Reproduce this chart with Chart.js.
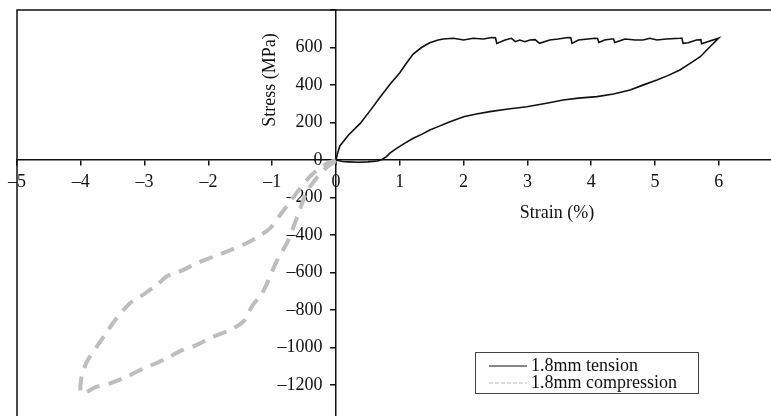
<!DOCTYPE html>
<html>
<head>
<meta charset="utf-8">
<script src="https://cdn.jsdelivr.net/npm/chart.js@4"></script>
<style>
  html, body { margin: 0; padding: 0; background: #fff; overflow: hidden; }
  #wrap { width: 771px; height: 416px; overflow: hidden; }
</style>
</head>
<body>
<div id="wrap"><canvas id="StressChart" width="790" height="430"></canvas></div>
<script>
// tension loop: loading, serrated plateau, unloading (strain %, stress MPa)
var tensionStrain = [0, 0.02, 0.06, 0.2, 0.38, 0.55, 0.69, 0.85, 1.0, 1.1, 1.21, 1.34, 1.47, 1.53, 1.6, 1.68, 1.84, 2.0, 2.15, 2.31, 2.44, 2.5, 2.52, 2.65, 2.75, 2.81, 2.88, 2.96, 3.04, 3.12, 3.19, 3.35, 3.48, 3.64, 3.68, 3.7, 3.8, 3.95, 4.06, 4.1, 4.12, 4.21, 4.32, 4.35, 4.37, 4.53, 4.69, 4.81, 4.92, 5.03, 5.18, 5.39, 5.42, 5.44, 5.52, 5.65, 5.72, 5.73, 5.86, 6.0,
  5.85, 5.71, 5.55, 5.39, 5.2, 5.03, 4.8, 4.61, 4.35, 4.09, 3.8, 3.56, 3.3, 2.99, 2.7, 2.41, 2.2, 2.0, 1.85, 1.73, 1.6, 1.47, 1.35, 1.21, 1.08, 0.95, 0.85, 0.79, 0.72, 0.65, 0.5, 0.35, 0.2, 0.1, 0];
var tensionStress = [0, 30, 75, 135, 195, 270, 335, 405, 465, 515, 565, 600, 625, 632, 640, 645, 649, 640, 649, 645, 653, 652, 622, 640, 649, 631, 640, 631, 640, 642, 622, 640, 645, 653, 652, 622, 640, 645, 649, 648, 627, 640, 645, 645, 627, 645, 640, 640, 649, 640, 645, 649, 650, 622, 625, 640, 642, 620, 635, 650,
  600, 551, 515, 480, 450, 427, 398, 373, 352, 338, 330, 320, 303, 284, 272, 258, 245, 231, 212, 196, 178, 160, 138, 116, 90, 62, 38, 18, 3, -5, -10, -12, -10, -8, 0];

// compression loop
var compStrain = [0, -0.15, -0.28, -0.41, -0.56, -0.72, -0.88, -1.03, -1.2, -1.4, -1.65, -1.93, -2.2, -2.4, -2.55, -2.66, -2.81, -3.07, -3.23, -3.44, -3.57, -3.75, -3.89, -3.96, -3.99, -3.99,
  -3.75, -3.54, -3.28, -3.07, -2.82, -2.66, -2.4, -2.19, -1.92, -1.66, -1.5, -1.43, -1.32, -1.16, -1.08, -0.93, -0.77, -0.67, -0.56, -0.46, -0.3, -0.18, -0.09, 0];
var compStress = [0, -20, -50, -89, -150, -223, -295, -363, -405, -443, -480, -517, -553, -587, -605, -622, -667, -729, -764, -844, -907, -996, -1067, -1120, -1156, -1244,
  -1209, -1191, -1156, -1120, -1084, -1058, -1013, -987, -942, -907, -875, -853, -782, -711, -658, -540, -443, -360, -260, -170, -95, -50, -25, -5];

var seriesNames = ["1.8mm tension", "1.8mm compression"];
var xTitle = "Strain (%)";
var yTitle = "Stress (MPa)";

var serif = "'Liberation Serif', 'Times New Roman', serif";

function pts(xs, ys) {
  return xs.map(function (v, i) { return { x: v, y: ys[i] }; });
}

function fmt(v) {
  return v < 0 ? "\u2013" + Math.abs(v) : String(v);
}

function noPad(s) {
  s.paddingLeft = 0; s.paddingRight = 0; s.paddingTop = 0; s.paddingBottom = 0;
}

var framePlugin = {
  id: "frameAndLegend",
  afterDraw: function (chart) {
    var ctx = chart.ctx, a = chart.chartArea;
    var xs = chart.scales.x, ys = chart.scales.y;
    ctx.save();
    ctx.strokeStyle = "#111";
    ctx.lineWidth = 1.5;
    ctx.strokeRect(a.left, a.top, a.right - a.left, a.bottom - a.top);

    ctx.fillStyle = "#111";
    ctx.font = "18px " + serif;
    ctx.textAlign = "center";
    ctx.textBaseline = "middle";
    ctx.fillText(xTitle, xs.getPixelForValue(0) + 221, ys.getPixelForValue(0) + 53);
    ctx.save();
    ctx.translate(xs.getPixelForValue(0) - 66, ys.getPixelForValue(0) - 80);
    ctx.rotate(-Math.PI / 2);
    ctx.fillText(yTitle, 0, 0);
    ctx.restore();

    // legend box
    var lx = 475.5, ly = 352.5;
    ctx.strokeStyle = "#444";
    ctx.lineWidth = 1;
    ctx.strokeRect(lx, ly, 223, 41);
    ctx.textAlign = "left";
    chart.data.datasets.forEach(function (ds, i) {
      var y = 366 + i * 17;
      ctx.beginPath();
      ctx.strokeStyle = ds.borderColor;
      ctx.lineWidth = 1;
      ctx.setLineDash(i === 0 ? [] : [4, 2]);
      ctx.moveTo(489, y);
      ctx.lineTo(527, y);
      ctx.stroke();
      ctx.setLineDash([]);
      ctx.fillStyle = "#111";
      ctx.fillText(ds.label, 531, y);
    });
    ctx.restore();
  }
};

new Chart(document.getElementById("StressChart"), {
  type: "scatter",
  data: {
    datasets: [
      {
        label: seriesNames[0],
        data: pts(tensionStrain, tensionStress),
        showLine: true,
        borderColor: "#111",
        borderWidth: 1.6,
        pointRadius: 0,
        tension: 0,
      },
      {
        label: seriesNames[1],
        data: pts(compStrain, compStress),
        showLine: true,
        borderColor: "rgb(190,190,190)",
        borderWidth: 4,
        borderDash: [14, 9],
        pointRadius: 0,
        tension: 0.3,
      },
    ],
  },
  options: {
    responsive: false,
    animation: false,
    layout: { padding: { left: 17, top: 10, right: 7.4, bottom: 7.5 } },
    plugins: {
      legend: { display: false },
      tooltip: { enabled: false },
    },
    scales: {
      x: {
        type: "linear",
        min: -5,
        max: 7,
        position: { y: 0 },
        afterFit: noPad,
        ticks: {
          stepSize: 1,
          autoSkip: false,
          maxRotation: 0,
          padding: 6,
          color: "#111",
          font: { family: serif, size: 18 },
          callback: function (v) { return v === 7 ? "" : fmt(v); },
        },
        grid: { drawOnChartArea: false, drawTicks: true, tickLength: 5, color: "#111", lineWidth: 1.5 },
        border: { color: "#111", width: 1.5 },
      },
      y: {
        type: "linear",
        min: -1400,
        max: 800,
        position: { x: 0 },
        afterFit: noPad,
        ticks: {
          stepSize: 200,
          autoSkip: false,
          color: "#111",
          font: { family: serif, size: 18 },
          // centred axis puts labels flush on the line; trailing spaces push them left
          callback: function (v) { return (v === 800 || v === -1400) ? "" : fmt(v) + "   "; },
        },
        grid: { drawOnChartArea: false, drawTicks: true, tickLength: 5, color: "#111", lineWidth: 1.5 },
        border: { color: "#111", width: 1.5 },
      },
    },
  },
  plugins: [framePlugin],
});
</script>
</body>
</html>
